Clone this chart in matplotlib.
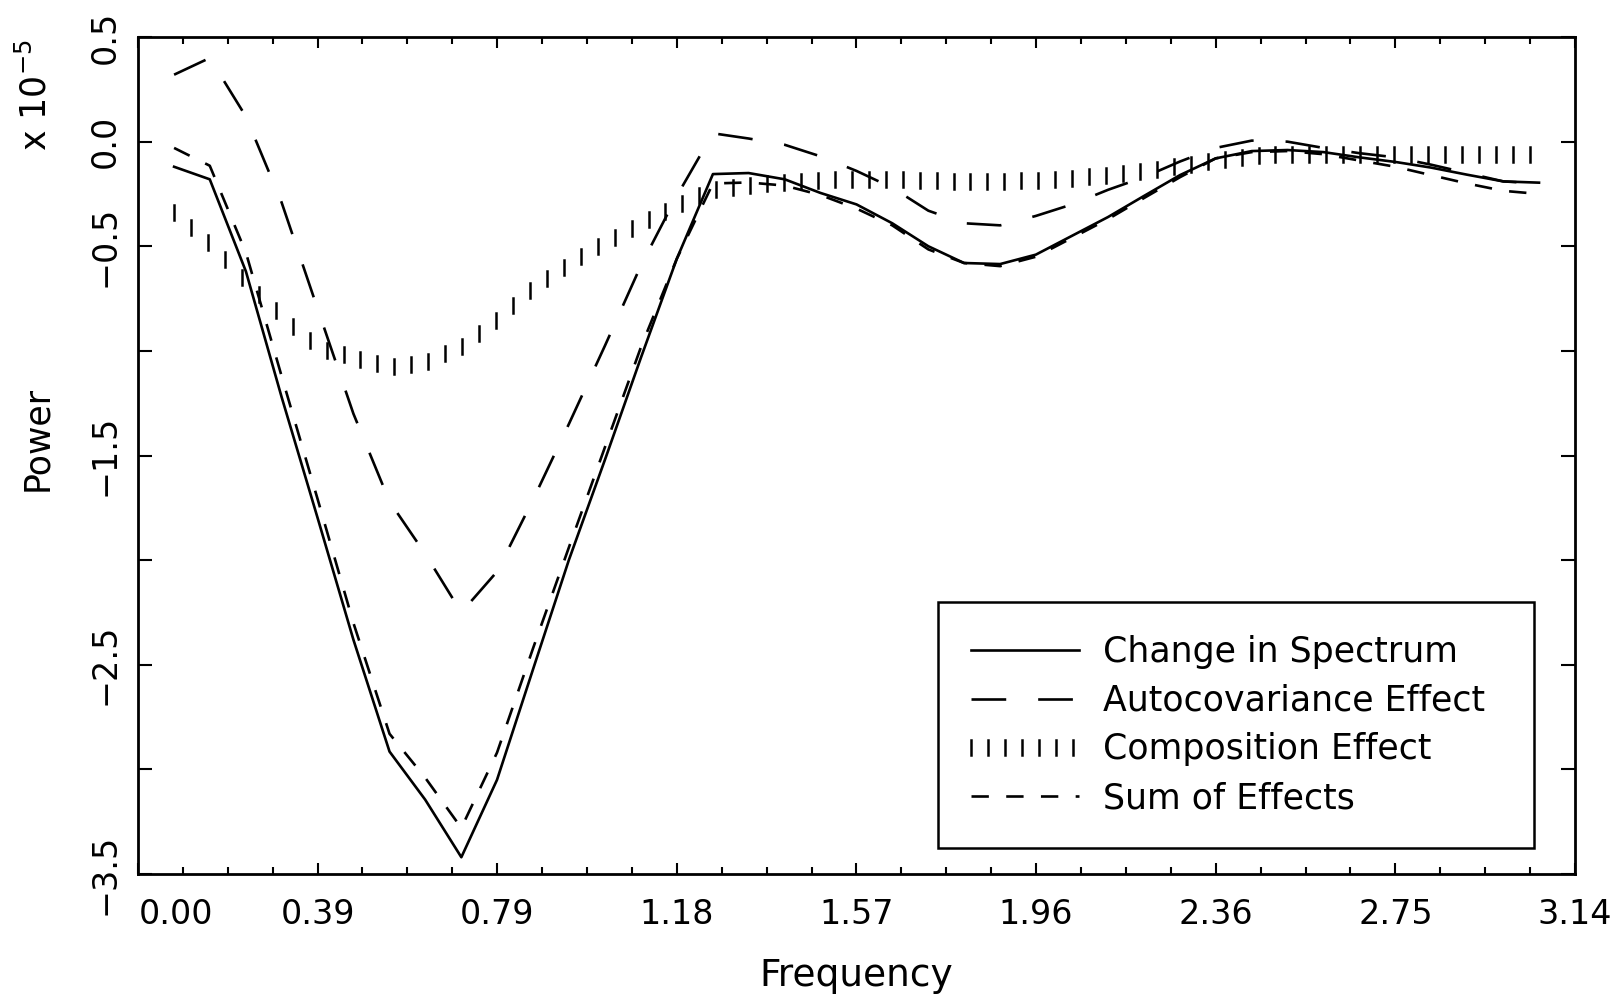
import numpy as np
import matplotlib
matplotlib.use("Agg")
import matplotlib.pyplot as plt
from matplotlib.patheffects import AbstractPathEffect
from matplotlib.path import Path
from matplotlib.transforms import Affine2D, ScaledTranslation

# frequencies (radians), k*pi/40 for k = 1..39
freq = [0.079, 0.157, 0.236, 0.314, 0.393, 0.471, 0.550, 0.628, 0.707, 0.785,
        0.864, 0.942, 1.021, 1.100, 1.178, 1.257, 1.335, 1.414, 1.492, 1.571,
        1.649, 1.728, 1.806, 1.885, 1.963, 2.042, 2.121, 2.199, 2.278, 2.356,
        2.435, 2.513, 2.592, 2.670, 2.749, 2.827, 2.906, 2.985, 3.063]

# power, in units of 1e-5
change = [-0.12, -0.18, -0.62, -1.22, -1.80, -2.38, -2.915, -3.145, -3.42, -3.05,
          -2.52, -2.00, -1.52, -1.03, -0.56, -0.155, -0.15, -0.18, -0.245, -0.30,
          -0.39, -0.50, -0.58, -0.585, -0.54, -0.45, -0.36, -0.26, -0.16, -0.08,
          -0.045, -0.04, -0.05, -0.075, -0.097, -0.124, -0.158, -0.19, -0.196]

autocov = [0.32, 0.40, 0.12, -0.29, -0.80, -1.30, -1.72, -1.97, -2.25, -2.055,
           -1.71, -1.35, -0.975, -0.59, -0.26, 0.04, 0.015, -0.015, -0.07, -0.14,
           -0.22, -0.33, -0.39, -0.40, -0.355, -0.30, -0.23, -0.17, -0.095, -0.03,
           0.005, 0.0, -0.03, -0.055, -0.075, -0.11, -0.15, -0.19, -0.20]

composition = [-0.34, -0.49, -0.67, -0.835, -0.985, -1.03, -1.075, -1.055, -0.98, -0.85,
               -0.70, -0.585, -0.48, -0.39, -0.305, -0.23, -0.21, -0.195, -0.185, -0.18,
               -0.18, -0.185, -0.19, -0.19, -0.185, -0.175, -0.16, -0.14, -0.115, -0.09,
               -0.07, -0.06, -0.06, -0.06, -0.06, -0.06, -0.06, -0.06, -0.06]

sum_effects = [-0.03, -0.115, -0.53, -1.12, -1.71, -2.30, -2.83, -3.04, -3.28, -2.92,
               -2.42, -1.94, -1.46, -0.98, -0.56, -0.20, -0.195, -0.21, -0.255, -0.32,
               -0.40, -0.515, -0.58, -0.595, -0.55, -0.46, -0.37, -0.27, -0.17, -0.08,
               -0.05, -0.045, -0.06, -0.09, -0.12, -0.16, -0.20, -0.235, -0.25]

labels = ["Change in Spectrum", "Autocovariance Effect",
          "Composition Effect", "Sum of Effects"]

xtick_labels = ["0.00", "0.39", "0.79", "1.18", "1.57", "1.96", "2.36", "2.75", "3.14"]
ytick_labels = ["\u22123.5", "", "\u22122.5", "", "\u22121.5", "", "\u22120.5", "0.0", "0.5"]


class VerticalTicks(AbstractPathEffect):
    """Draws a line as a row of short vertical bars (old plotter style)."""

    def __init__(self, spacing=12.2, length=10.8, linewidth=1.8):
        super().__init__()
        self.spacing = spacing
        self.length = length
        self.linewidth = linewidth

    def draw_path(self, renderer, gc, tpath, affine, rgbFace=None):
        pts = affine.transform(tpath.vertices)
        xs, ys = pts[:, 0], pts[:, 1]
        step = renderer.points_to_pixels(self.spacing)
        half = renderer.points_to_pixels(self.length) / 2
        xt = np.arange(xs[0], xs[-1] + 1e-6, step)
        yt = np.interp(xt, xs, ys)
        verts = np.empty((2 * len(xt), 2))
        verts[0::2, 0] = xt
        verts[0::2, 1] = yt - half
        verts[1::2, 0] = xt
        verts[1::2, 1] = yt + half
        codes = np.tile([Path.MOVETO, Path.LINETO], len(xt))
        gc0 = renderer.new_gc()
        gc0.copy_properties(gc)
        gc0.set_linewidth(self.linewidth)
        gc0.set_dashes(0, None)
        renderer.draw_path(gc0, Path(verts, codes), Affine2D())
        gc0.restore()


plt.rcParams['font.family'] = ['DejaVu Sans']
plt.rcParams['lines.scale_dashes'] = False

fig = plt.figure(figsize=(16.21, 10.01), dpi=100)
ax = fig.add_axes([0.0851, 0.1269, 0.8865, 0.8361])

lw = 1.9
ax.plot(freq, change, color='black', lw=lw, label=labels[0])
ax.plot(freq, autocov, color='black', lw=lw, dashes=(25, 23), label=labels[1])
ax.plot(freq, composition, color='black', lw=lw, label=labels[2],
        path_effects=[VerticalTicks()])
ax.plot(freq, sum_effects, color='black', lw=lw, dashes=(12.5, 12.5), label=labels[3])

ax.set_xlim(0, np.pi)
ax.set_ylim(-3.5, 0.5)

ax.set_xticks(np.arange(9) * np.pi / 8)
ax.set_xticklabels(xtick_labels)
ax.set_xticks(np.arange(33) * np.pi / 32, minor=True)
ax.set_yticks(np.arange(-3.5, 0.51, 0.5))
ax.set_yticklabels(ytick_labels)

for s in ax.spines.values():
    s.set_linewidth(2.0)

ax.tick_params(which='both', direction='in', top=True, right=True,
               width=1.5, labelsize=24)
ax.tick_params(axis='x', which='major', length=8, pad=17)
ax.tick_params(axis='x', which='minor', length=5)
ax.tick_params(axis='y', which='major', length=10, pad=12, labelrotation=90)
for lbl in ax.get_yticklabels():
    lbl.set_va('center')

# first frequency label sits to the right of its tick, clear of the -3.5 label
first = ax.xaxis.get_major_ticks()[0].label1
first.set_transform(first.get_transform() + ScaledTranslation(0.38, 0, fig.dpi_scale_trans))

ax.set_xlabel("Frequency", fontsize=27, labelpad=20)
fig.text(0.0228, 0.562, "Power", rotation=90, fontsize=25, ha='center', va='center')
fig.text(0.0216, 0.905, r"x 10$^{-5}$", rotation=90, fontsize=25, ha='center', va='center')

leg = ax.legend(loc='lower left', bbox_to_anchor=(0.5567, 0.031, 0.415, 0.293),
                mode='expand', fontsize=25, frameon=True, fancybox=False,
                edgecolor='black', framealpha=1, handlelength=3.1,
                handletextpad=0.7, labelspacing=0.42, borderpad=0.95, borderaxespad=0)
leg.get_frame().set_linewidth(1.8)

fig.savefig("out.png", dpi=100)
